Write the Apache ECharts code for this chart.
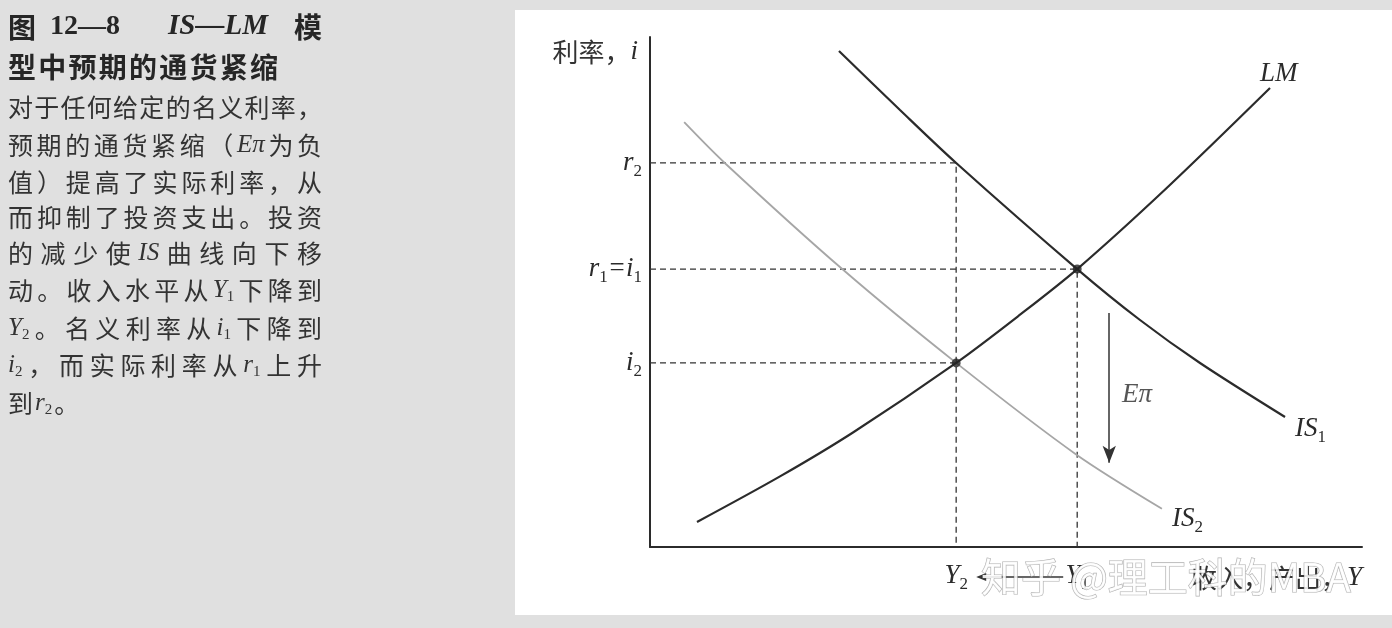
<!DOCTYPE html>
<html><head><meta charset="utf-8">
<script src="https://cdn.jsdelivr.net/npm/echarts@6/dist/echarts.min.js"></script>
<style>html,body{margin:0;padding:0;background:#e0e0e0}#c{width:1392px;height:628px}</style>
</head><body><div id="c"></div>
<script>
// ---- data (abstract units, axis 0..100) ----
const Y2 = 43, Y1 = 60;
const R2 = 75.3, R1 = 54.5, I2 = 36.1;
const yTickValues = [I2, R1, R2];
const yTickLabels = ['{it|i}{sb|2}', '{it|r}{sb|1}{it|=i}{sb|1}', '{it|r}{sb|2}'];
const xTickValues = [Y2, Y1];
const xTickLabels = ['{it|Y}{sb|2}', '{it|Y}{sb|1}'];

const is1X = [26.54, 35.11, Y2, Y1, 68.82, 77.25, 89.19];
const is1Y = [97.25, 85.69, R2, R1, 44.51, 36.08, 25.49];
const is2X = [4.8, 10.5, 27.0, Y2, 59.8, 71.9];
const is2Y = [83.3, 75.3, 54.5, I2, 18.2, 7.5];
const lmX = [6.6, 18.26, 28.51, Y2, 51.97, Y1, 72.61, 87.08];
const lmY = [4.9, 13.84, 22.45, I2, 45.55, R1, 70.45, 90.0];
const eqX = [Y2, Y1];
const eqY = [I2, R1];
const arrowX = 64.5, arrowTop = 45.9, arrowBottom = 16.5;
const epsLabelPos = [68.4, 29.8];

const leftTitle1 = ['图', '12—8', 'IS—LM', '模'];
const leftTitle2 = '型中预期的通货紧缩';
const leftBody = [
  '{n|对于任何给定的名义利率，}',
  '{n|预期的通货紧缩（}{e|Eπ}{n| 为负}',
  '{n|值）提高了实际利率，从}',
  '{n|而抑制了投资支出。投资}',
  '{n|的减少使 }{e|IS}{n| 曲线向下移}',
  '{n|动。收入水平从 }{e|Y}{s|1}{n| 下降到}',
  '{e|Y}{s|2}{n|。名义利率从 }{e|i}{s|1}{n| 下降到}',
  '{e|i}{s|2}{n|，而实际利率从 }{e|r}{s|1}{n| 上升}',
  '{n|到 }{e|r}{s|2}{n|。}'
];
const watermark = '知乎 @理工科的MBA';

const zip = (xs, ys) => xs.map((x, i) => [x, ys[i]]);
const SERIF = 'Liberation Serif';
const CJK = 'Noto Sans CJK SC';
const ink = '#2b2b2b';
const textInk = '#333333';

const chartRich = {
  it: {fontFamily: SERIF, fontStyle: 'italic', fontSize: 27, color: ink, lineHeight: 34},
  sb: {fontFamily: SERIF, fontSize: 17, color: ink, verticalAlign: 'bottom', lineHeight: 16},
  c: {fontFamily: CJK, fontSize: 26, color: '#333', lineHeight: 34}
};

// ---- left text panel: justified lines built as rich text ----
const ctx = document.createElement('canvas').getContext('2d');
const bodyFonts = {
  n: {font: '25px "' + CJK + '"', style: {fontFamily: CJK, fontSize: 25, fill: textInk, lineHeight: 30}},
  e: {font: 'italic 25px "' + SERIF + '"', style: {fontFamily: SERIF, fontStyle: 'italic', fontSize: 25, fill: textInk, lineHeight: 30}},
  s: {font: '15px "' + SERIF + '"', style: {fontFamily: SERIF, fontSize: 15, fill: textInk, verticalAlign: 'bottom', lineHeight: 13}}
};
const measure = (t, f) => { ctx.font = f; return ctx.measureText(t).width; };
function justify(markup, width, fixedGap) {
  const units = [];
  const re = /\{(\w+)\|([^}]*)\}/g; let m;
  while ((m = re.exec(markup))) {
    const k = m[1], t = m[2];
    if (k === 'n') { for (const ch of t) { if (ch !== ' ') units.push({k, t: ch}); } }
    else units.push({k, t});
  }
  let total = 0, slots = 0;
  units.forEach((u, i) => {
    total += measure(u.t, bodyFonts[u.k].font);
    const next = units[i + 1];
    u.gap = !!next && !(next.k === 's');
    if (u.gap) slots++;
  });
  const g = fixedGap != null ? fixedGap : Math.max(0, (width - total) / Math.max(1, slots));
  const rich = {};
  ['n', 'e', 's'].forEach(k => {
    rich[k] = Object.assign({}, bodyFonts[k].style, {padding: [0, g, 0, 0]});
    rich[k + '0'] = Object.assign({}, bodyFonts[k].style);
  });
  const text = units.map(u => '{' + u.k + (u.gap ? '' : '0') + '|' + u.t + '}').join('');
  return {text, rich};
}

const leftGraphics = [];
leftGraphics.push({type: 'rect', shape: {x: 0, y: 0, width: 1392, height: 628}, style: {fill: '#e0e0e0'}, z: -10, silent: true});
leftGraphics.push({type: 'rect', shape: {x: 515, y: 10, width: 877, height: 605}, style: {fill: '#ffffff'}, z: -9, silent: true});
const titleFill = '#262626';
const titleX = [8, 50, 168, 322];
leftTitle1.forEach((t, i) => leftGraphics.push({
  type: 'text', x: titleX[i], y: 27, silent: true,
  style: {text: t, align: i === 3 ? 'right' : 'left', verticalAlign: 'middle', fill: titleFill,
    font: (i === 2 ? 'italic bold 29px "' + SERIF + '"' : i === 1 ? 'bold 28px "' + SERIF + '"' : 'bold 28px "' + CJK + '"')}
}));
{
  const chars = Array.from(leftTitle2);
  const w = measure(leftTitle2, 'bold 28px "' + CJK + '"');
  const g = (270 - w) / (chars.length - 1);
  leftGraphics.push({type: 'text', x: 8, y: 67, silent: true, style: {
    text: chars.map((c, i) => '{' + (i < chars.length - 1 ? 'a' : 'b') + '|' + c + '}').join(''), verticalAlign: 'middle',
    rich: {a: {fontFamily: CJK, fontWeight: 'bold', fontSize: 28, fill: titleFill, padding: [0, g, 0, 0]},
           b: {fontFamily: CJK, fontWeight: 'bold', fontSize: 28, fill: titleFill}}
  }});
}
const bodyY = [107, 145, 182, 217, 253, 290, 328, 365, 403];
leftBody.forEach((t, i) => {
  const j = justify(t, 314, i === leftBody.length - 1 ? 2 : null);
  leftGraphics.push({type: 'text', x: 8, y: bodyY[i], silent: true,
    style: {text: j.text, verticalAlign: 'middle', rich: j.rich}});
});

const chart = echarts.init(document.getElementById('c'), null, {renderer: 'canvas'});
const dashStyle = {type: [6, 4], width: 1.3, color: '#333'};
const dashed = (data) => ({type: 'line', data, showSymbol: false, silent: true, lineStyle: dashStyle, z: 1});

chart.setOption({
  animation: false,
  backgroundColor: 'transparent',
  graphic: leftGraphics,
  grid: {left: 650, right: 30, top: 37, bottom: 81},
  xAxis: {
    type: 'value', min: 0, max: 100,
    axisLine: {show: true, onZero: false, lineStyle: {color: ink, width: 2}},
    axisTick: {show: false}, splitLine: {show: false},
    axisLabel: {
      customValues: xTickValues, margin: 12,
      formatter: (v) => { const k = xTickValues.findIndex(t => Math.abs(t - v) < 1e-6); return k >= 0 ? xTickLabels[k] : ''; },
      rich: chartRich
    },
    name: '{c|收入，产出，}{it|Y}', nameLocation: 'end', nameGap: 0,
    nameTextStyle: {align: 'right', verticalAlign: 'top', padding: [14, 0, 0, 0], rich: chartRich}
  },
  yAxis: {
    type: 'value', min: 0, max: 100,
    axisLine: {show: true, onZero: false, lineStyle: {color: ink, width: 2}},
    axisTick: {show: false}, splitLine: {show: false},
    axisLabel: {
      customValues: yTickValues, margin: 8,
      formatter: (v) => { const k = yTickValues.findIndex(t => Math.abs(t - v) < 1e-6); return k >= 0 ? yTickLabels[k] : ''; },
      rich: chartRich
    },
    name: '{c|利率，}{it|i}', nameLocation: 'end', nameGap: -15,
    nameTextStyle: {align: 'right', verticalAlign: 'middle', padding: [0, 12, 0, 0], rich: chartRich}
  },
  series: [
    dashed([[0, R2], [Y2, R2], [Y2, 0]]),
    dashed([[0, R1], [Y1, R1], [Y1, 0]]),
    dashed([[0, I2], [Y2, I2]]),
    {
      name: 'IS2', type: 'line', data: zip(is2X, is2Y), smooth: 0.3, showSymbol: false, silent: true, z: 2,
      lineStyle: {color: '#a6a6a6', width: 1.8},
      endLabel: {show: true, formatter: '{it|IS}{sb|2}', offset: [2, 10], rich: chartRich}
    },
    {
      name: 'IS1', type: 'line', data: zip(is1X, is1Y), smooth: 0.3, showSymbol: false, silent: true, z: 3,
      lineStyle: {color: ink, width: 2.2},
      endLabel: {show: true, formatter: '{it|IS}{sb|1}', offset: [2, 12], rich: chartRich}
    },
    {
      name: 'LM', type: 'line', data: zip(lmX, lmY), smooth: 0.3, showSymbol: false, silent: true, z: 3,
      lineStyle: {color: ink, width: 2.2},
      endLabel: {show: true, formatter: '{it|LM}', offset: [-18, -14], rich: chartRich}
    },
    {
      name: 'eq', type: 'scatter', data: zip(eqX, eqY), symbol: 'circle', symbolSize: 9, silent: true, z: 5,
      itemStyle: {color: '#222'},
      markLine: {
        silent: true, symbol: ['none', 'arrow'], symbolSize: [10, 17], label: {show: false},
        lineStyle: {type: 'solid', color: '#333', width: 1.5},
        data: [[{coord: [arrowX, arrowTop]}, {coord: [arrowX, arrowBottom]}]]
      }
    },
    {
      name: 'Eπ', type: 'scatter', data: [epsLabelPos], symbolSize: 0, silent: true,
      label: {show: true, position: 'inside', formatter: '{it|Eπ}', rich: chartRich}
    }
  ]
});

// annotations positioned through the chart's coordinate system
const p1 = chart.convertToPixel({gridIndex: 0}, [Y1, 0]);
const p2 = chart.convertToPixel({gridIndex: 0}, [Y2, 0]);
const ay = p1[1] + 30;
const x0 = p1[0] - 14, x1 = p2[0] + 20;
chart.setOption({
  graphic: leftGraphics.concat([
    {type: 'line', silent: true, z: 50, shape: {x1: x0, y1: ay, x2: x1 + 4, y2: ay}, style: {stroke: '#333', lineWidth: 1.3}},
    {type: 'polygon', silent: true, z: 50, shape: {points: [[x1, ay], [x1 + 10, ay - 4], [x1 + 10, ay + 4]]}, style: {fill: '#333'}},
    {type: 'text', silent: true, z: 100, x: 1166, y: ay, style: {
      text: watermark, align: 'center', verticalAlign: 'middle',
      font: '40px "Noto Sans CJK SC"', fill: 'rgba(255,255,255,0.88)', stroke: 'rgba(110,110,110,0.55)', lineWidth: 1.2
    }}
  ])
});
</script></body></html>
